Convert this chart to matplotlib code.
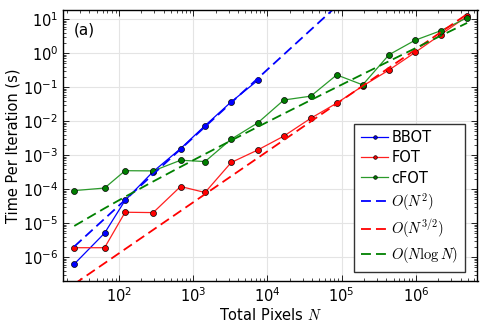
import matplotlib
matplotlib.use("Agg")
import matplotlib.pyplot as plt
import numpy as np
from matplotlib.ticker import FixedLocator, LogLocator, NullFormatter

# total pixels N and time per iteration (s)
n_pixels = [25, 64, 121, 289, 676, 1444, 3249, 7396, 16641, 38416, 85849,
            191844, 434281, 974169, 2149156, 4897369]
bbot_time = [6.3e-7, 5.1e-6, 4.7e-5, 3.3e-4, 1.56e-3, 7.4e-3, 3.7e-2, 0.158]
fot_time = [1.9e-6, 1.9e-6, 2.1e-5, 2.05e-5, 1.2e-4, 8.0e-5, 6.1e-4, 1.42e-3,
            3.65e-3, 1.22e-2, 3.4e-2, 0.108, 0.32, 1.05, 3.5, 12.2]
cfot_time = [9.1e-5, 1.08e-4, 3.5e-4, 3.45e-4, 7.1e-4, 6.5e-4, 2.95e-3, 8.9e-3,
             4.2e-2, 5.45e-2, 0.23, 0.117, 0.9, 2.4, 4.55, 11.0]

# scaling reference constants
c_n2 = 3.3e-9
c_n32 = 1.3e-9
c_nlogn = 1.03e-7

plt.rcParams["mathtext.fontset"] = "cm"
plt.rcParams["font.family"] = ["DejaVu Sans"]

fig = plt.figure(figsize=(4.88, 3.26), dpi=100)
ax = fig.add_axes([63 / 488, 1 - 281 / 326, (477.5 - 63) / 488, (281 - 10) / 326])

N = np.array(n_pixels, dtype=float)
mk = dict(marker="o", markersize=4.3, markeredgecolor="black", markeredgewidth=0.5, linewidth=0.9)

ax.plot(N[:len(bbot_time)], bbot_time, color="#0000ff", markerfacecolor="#0000ff", label="BBOT", **mk)
ax.plot(N, fot_time, color="#ff2020", markerfacecolor="#ff0000", label="FOT", **mk)
ax.plot(N, cfot_time, color="#2a9a2a", markerfacecolor="#007f00", label="cFOT", **mk)

dash = (5.5, 2.8)  # scaled by linewidth
ax.plot(N, c_n2 * N**2, color="#0000ff", lw=1.3, dashes=dash, label=r"$O(N^2)$")
ax.plot(N, c_n32 * N**1.5, color="#ff0000", lw=1.3, dashes=dash, label=r"$O(N^{3/2})$")
ax.plot(N, c_nlogn * N * np.log(N), color="#008000", lw=1.3, dashes=dash, label=r"$O(N\log N)$")

ax.set_xscale("log")
ax.set_yscale("log")
ax.set_xlim(10**1.246, 10**6.83)
ax.set_ylim(10**-6.7, 10**1.27)
ax.xaxis.set_major_locator(FixedLocator(10.0 ** np.arange(2, 7)))
ax.yaxis.set_major_locator(FixedLocator(10.0 ** np.arange(-6, 2)))
for axis in (ax.xaxis, ax.yaxis):
    axis.set_minor_locator(LogLocator(base=10, subs=np.arange(2, 10), numticks=200))
    axis.set_minor_formatter(NullFormatter())

ax.grid(True, which="major", color="#e4e4e4", linewidth=0.8)
ax.set_axisbelow(True)
ax.tick_params(which="both", direction="in", top=True, right=True, labelsize=10.5)
ax.tick_params(which="major", length=4, width=0.6)
ax.tick_params(which="minor", length=2, width=0.5)
for sp in ax.spines.values():
    sp.set_linewidth(1.0)

ax.set_xlabel(r"Total Pixels $N$", fontsize=10.5, labelpad=2)
ax.set_ylabel("Time Per Iteration (s)", fontsize=10.5, labelpad=2)
ax.text(0.025, 0.955, "(a)", transform=ax.transAxes, fontsize=11, va="top", ha="left")

leg = ax.legend(loc="lower right", bbox_to_anchor=(0.97, 0.035), borderaxespad=0,
                fontsize=10.5, fancybox=False, framealpha=1, edgecolor="#333333",
                markerscale=0.6, handlelength=1.9, handletextpad=0.2,
                labelspacing=0.35, borderpad=0.45)
leg.get_frame().set_linewidth(1.0)

fig.savefig("out.png", dpi=100)
